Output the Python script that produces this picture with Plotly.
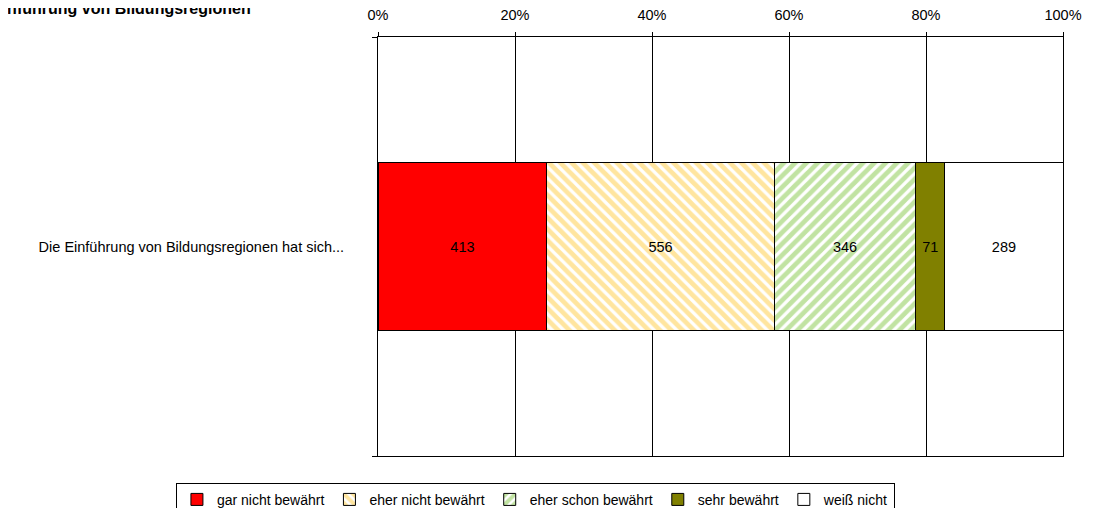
import plotly.graph_objects as go

title_text = "Einführung von Bildungsregionen"
category = ["Die Einführung von Bildungsregionen hat sich..."]
series_names = ["gar nicht bewährt", "eher nicht bewährt", "eher schon bewährt", "sehr bewährt", "weiß nicht"]
series_values = [413, 556, 346, 71, 289]
x_ticks = [0, 20, 40, 60, 80, 100]
x_tick_labels = ["0%", "20%", "40%", "60%", "80%", "100%"]

FONT = "Arial, Liberation Sans, sans-serif"

styles = [
    dict(color="#FF0000"),
    dict(color="white", pattern=dict(shape="\\", fgcolor="#FFCC40", bgcolor="white", size=8, solidity=0.6)),
    dict(color="white", pattern=dict(shape="/", fgcolor="#84C746", bgcolor="white", size=8, solidity=0.6)),
    dict(color="#808000"),
    dict(color="white"),
]

fig = go.Figure()
for name, val, st in zip(series_names, series_values, styles):
    marker = dict(st)
    marker["line"] = dict(color="black", width=1)
    fig.add_trace(go.Bar(
        x=[val], y=category, name=name, orientation="h",
        marker=marker,
        text=[str(val)], textposition="inside", insidetextanchor="middle",
        textangle=0, constraintext="none",
        textfont=dict(family=FONT, size=14.5, color="black"),
    ))

fig.update_layout(
    barmode="stack", barnorm="percent", bargap=0.6,
    width=1096, height=508,
    margin=dict(l=370, r=41, t=29, b=60, autoexpand=False),
    paper_bgcolor="white", plot_bgcolor="white",
    font=dict(family=FONT, size=14.5, color="black"),
    showlegend=True,
    legend=dict(
        orientation="h", x=-0.295, xanchor="left", y=-0.064, yanchor="top",
        bordercolor="black", borderwidth=1, bgcolor="white",
        font=dict(family=FONT, size=14, color="black"),
        traceorder="normal", itemclick=False,
    ),
    xaxis=dict(
        side="top", range=[0, 100], tickvals=x_ticks, ticktext=x_tick_labels,
        showgrid=True, gridcolor="black", gridwidth=1,
        showline=True, linecolor="black", linewidth=1, mirror=True,
        ticks="outside", ticklen=4, tickcolor="black", ticklabelstandoff=6,
        tickfont=dict(family=FONT, size=14.5, color="black"),
        zeroline=False, fixedrange=True, automargin=False,
    ),
    yaxis=dict(
        showline=True, linecolor="black", linewidth=1, mirror=True,
        ticks="outside", ticklen=5, tickcolor="black", tickson="boundaries",
        ticklabelstandoff=30,
        tickfont=dict(family=FONT, size=14.5, color="black"),
        showgrid=False, fixedrange=True, automargin=False,
    ),
    annotations=[dict(
        text="<b>" + title_text + "</b>", xref="paper", yref="paper",
        x=-0.567, y=1.069, xanchor="left", yanchor="middle", showarrow=False,
        font=dict(family=FONT, size=16, color="black"),
    )],
)

fig.write_html("out.html")
